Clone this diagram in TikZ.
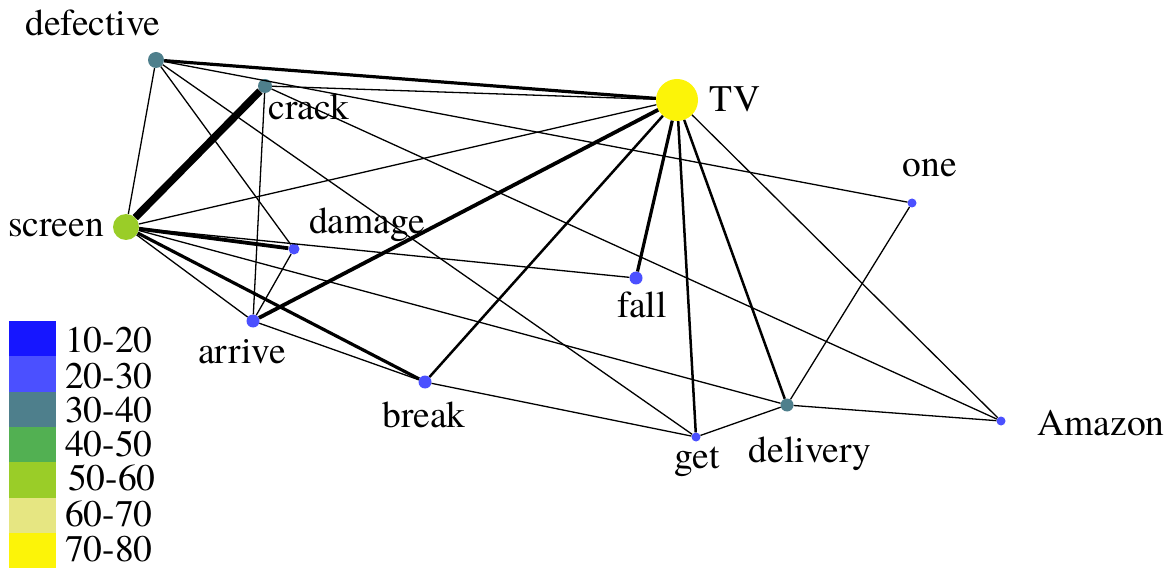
\documentclass[tikz,border=0pt]{standalone}
\usepackage{fontspec}
\setmainfont{TeX Gyre Termes}
% class colours of the legend
\definecolor{cA}{RGB}{22,22,255}
\definecolor{cB}{RGB}{75,80,255}
\definecolor{cC}{RGB}{78,127,140}
\definecolor{cD}{RGB}{82,176,82}
\definecolor{cE}{RGB}{154,205,40}
\definecolor{cF}{RGB}{230,230,130}
\definecolor{cG}{RGB}{252,244,8}
\begin{document}
\begin{tikzpicture}[x=1pt,y=-1pt,
  vtx/.style={circle,inner sep=0pt,draw=none,minimum size=#1},
  lbl/.style={inner sep=0pt,anchor=base,font=\fontsize{37.5}{40}\selectfont},
  key/.style={inner sep=0pt,anchor=base west,font=\fontsize{37.5}{40}\selectfont},
  w1/.style={line width=1.3pt},
  w2/.style={line width=2.5pt},
  w3/.style={line width=3.2pt},
  w4/.style={line width=3.8pt},
  w7/.style={line width=7.5pt}]
\useasboundingbox (0,0) rectangle (1175,569);

% word nodes
\node[vtx=16pt,fill=cC] (defective) at (156,60) {};
\node[vtx=14pt,fill=cC] (crack)     at (265,86) {};
\node[vtx=42pt,fill=cG] (tv)        at (677,100) {};
\node[vtx=26pt,fill=cE] (screen)    at (126,227) {};
\node[vtx=11pt,fill=cB] (damage)    at (294,249) {};
\node[vtx=13pt,fill=cB] (fall)      at (636,278) {};
\node[vtx=9pt,fill=cB]  (one)       at (912,203) {};
\node[vtx=13pt,fill=cB] (arrive)    at (253,321) {};
\node[vtx=13pt,fill=cB] (break)     at (425,382) {};
\node[vtx=13pt,fill=cC] (delivery)  at (787,405) {};
\node[vtx=9pt,fill=cB]  (get)       at (696,437) {};
\node[vtx=9pt,fill=cB]  (amazon)    at (1001,421) {};

% co-occurrence links
\draw[w3] (defective) -- (tv);
\draw[w1] (defective) -- (screen);
\draw[w1] (defective) -- (damage);
\draw[w1] (defective) -- (get);
\draw[w1] (defective) -- (one);
\draw[w7] (crack) -- (screen);
\draw[w1] (crack) -- (tv);
\draw[w1] (crack) -- (arrive);
\draw[w1] (crack) -- (amazon);
\draw[w1] (screen) -- (tv);
\draw[w4] (screen) -- (damage);
\draw[w1] (screen) -- (fall);
\draw[w1] (screen) -- (arrive);
\draw[w3] (screen) -- (break);
\draw[w1] (screen) -- (delivery);
\draw[w1] (damage) -- (arrive);
\draw[w4] (arrive) -- (tv);
\draw[w1] (arrive) -- (break);
\draw[w3] (tv) -- (fall);
\draw[w2] (tv) -- (break);
\draw[w2] (tv) -- (get);
\draw[w2] (tv) -- (delivery);
\draw[w1] (tv) -- (amazon);
\draw[w1] (break) -- (get);
\draw[w1] (get) -- (delivery);
\draw[w1] (delivery) -- (one);
\draw[w1] (delivery) -- (amazon);

% word labels
\node[lbl] (l-defective) at (93,36)   {defective};
\node[lbl] (l-crack)     at (309,120) {crack};
\node[lbl] (l-tv)        at (735,112) {TV};
\node[lbl] (l-one)       at (930,177) {one};
\node[lbl] (l-screen)    at (56,237)  {screen};
\node[lbl] (l-damage)    at (367,234) {damage};
\node[lbl] (l-fall)      at (642,317) {fall};
\node[lbl] (l-arrive)    at (242,363) {arrive};
\node[lbl] (l-break)     at (424,427) {break};
\node[lbl] (l-get)       at (697,468) {get};
\node[lbl] (l-delivery)  at (810,462) {delivery};
\node[lbl] (l-amazon)    at (1101,435){Amazon};

% colour key
\fill[cA] (9,321)   rectangle (56,356.3);
\fill[cB] (9,356.3) rectangle (56,391.6);
\fill[cC] (9,391.6) rectangle (56,426.9);
\fill[cD] (9,426.9) rectangle (56,462.2);
\fill[cE] (9,462.2) rectangle (56,497.5);
\fill[cF] (9,497.5) rectangle (56,532.8);
\fill[cG] (9,532.8) rectangle (56,568.1);
\node[key] (k1) at (65,352) {10-20};
\node[key] (k2) at (65,388) {20-30};
\node[key] (k3) at (65,422) {30-40};
\node[key] (k4) at (65,456) {40-50};
\node[key] (k5) at (68,490) {50-60};
\node[key] (k6) at (65,526) {60-70};
\node[key] (k7) at (65,561) {70-80};
\end{tikzpicture}
\end{document}
